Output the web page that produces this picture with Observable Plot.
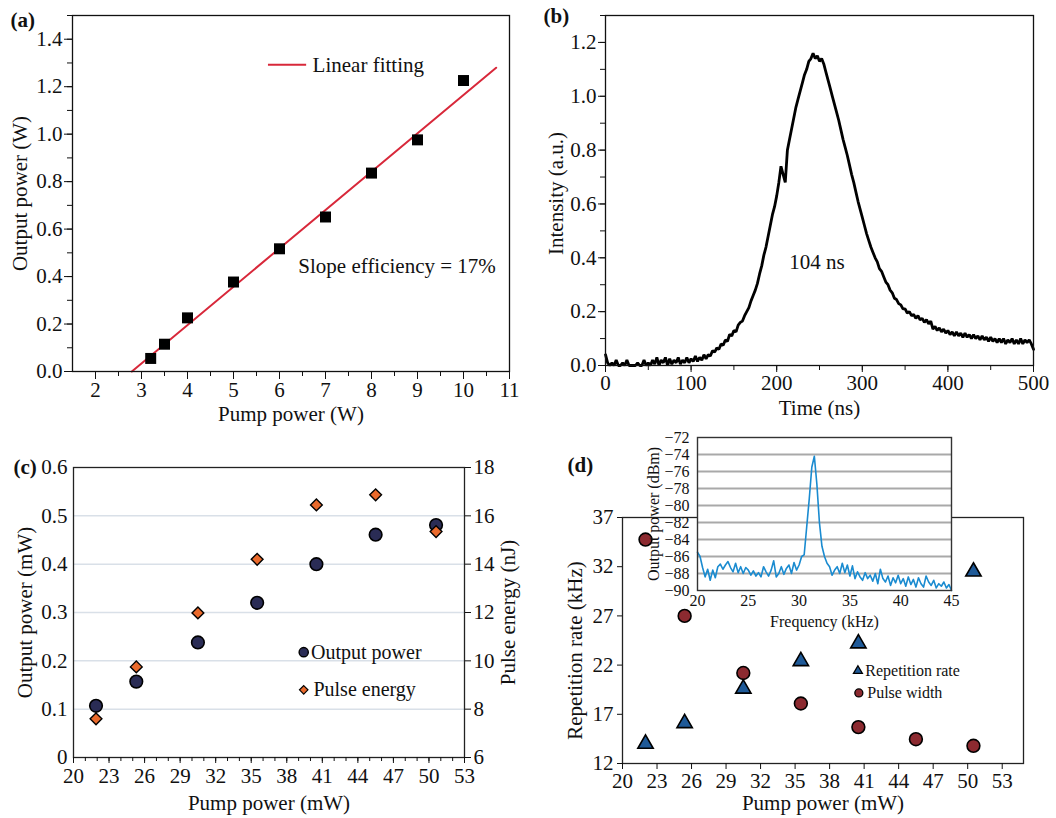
<!DOCTYPE html>
<html><head><meta charset="utf-8">
<script src="https://cdn.jsdelivr.net/npm/d3@7"></script>
<script src="https://cdn.jsdelivr.net/npm/@observablehq/plot@0.6"></script>
<style>
body{margin:0;background:#fff;}
#wrap{position:relative;width:1056px;height:818px;overflow:hidden;background:#fff;}
#wrap svg{position:absolute;}
#wrap svg text{font-family:"Liberation Serif","Times New Roman",serif !important;}
</style></head><body><div id="wrap"></div>
<script>
// ---------- (a) ----------
const pumpA = [3.2, 3.5, 4, 5, 6, 7, 8, 9, 10];
const outA = [0.055, 0.115, 0.226, 0.377, 0.517, 0.651, 0.836, 0.976, 1.226];
const fitPump = [2.79, 10.71];
const fitOut = [0, 1.28];
const aXTicks = [2, 3, 4, 5, 6, 7, 8, 9, 10, 11];
const aYTicks = [0, 0.2, 0.4, 0.6, 0.8, 1.0, 1.2, 1.4];

// ---------- (b) ----------
const timeStep = 2.5; // ns between samples
const intensity = [
  0.04, 0.01, 0.0, 0.01, 0.0, 0.02, 0.0, 0.0, 0.01, 0.0,
  0.02, 0.0, 0.0, 0.0, 0.0, 0.01, 0.0, 0.0, 0.02, 0.0,
  0.01, 0.0, 0.02, 0.005, 0.03, 0.0, 0.02, 0.01, 0.03, 0.0,
  0.025, 0.005, 0.02, 0.01, 0.03, 0.005, 0.02, 0.01, 0.03, 0.01,
  0.025, 0.015, 0.035, 0.015, 0.03, 0.02, 0.04, 0.025, 0.04, 0.035,
  0.055, 0.05, 0.065, 0.06, 0.08, 0.075, 0.095, 0.09, 0.115, 0.11,
  0.13, 0.125, 0.15, 0.16, 0.165, 0.185, 0.2, 0.215, 0.24, 0.26,
  0.28, 0.305, 0.34, 0.37, 0.41, 0.44, 0.48, 0.52, 0.56, 0.59,
  0.63, 0.68, 0.74, 0.71, 0.68, 0.8, 0.84, 0.88, 0.92, 0.96,
  0.99, 1.02, 1.05, 1.08, 1.10, 1.13, 1.14, 1.16, 1.14, 1.15,
  1.13, 1.14, 1.12, 1.09, 1.06, 1.03, 1.0, 0.97, 0.94, 0.91,
  0.875, 0.84, 0.81, 0.78, 0.745, 0.71, 0.68, 0.645, 0.61, 0.58,
  0.55, 0.52, 0.49, 0.465, 0.44, 0.42, 0.40, 0.385, 0.36, 0.35,
  0.33, 0.31, 0.30, 0.28, 0.27, 0.25, 0.245, 0.23, 0.225, 0.21,
  0.21, 0.195, 0.2, 0.185, 0.19, 0.175, 0.185, 0.17, 0.175, 0.16,
  0.17, 0.155, 0.165, 0.135, 0.145, 0.13, 0.14, 0.125, 0.135, 0.12,
  0.13, 0.115, 0.125, 0.11, 0.125, 0.11, 0.12, 0.105, 0.12, 0.105,
  0.115, 0.1, 0.115, 0.1, 0.11, 0.095, 0.11, 0.095, 0.105, 0.09,
  0.105, 0.09, 0.1, 0.085, 0.1, 0.085, 0.1, 0.08, 0.095, 0.085,
  0.1, 0.08, 0.095, 0.08, 0.1, 0.08, 0.095, 0.085, 0.095, 0.08,
  0.06
];
const bXTicks = [0, 100, 200, 300, 400, 500];
const bYTicks = [0, 0.2, 0.4, 0.6, 0.8, 1.0, 1.2];
const pulseLabel = "104 ns";

// ---------- (c) ----------
const pumpC = [21.9, 25.3, 30.5, 35.5, 40.5, 45.5, 50.6];
const outC = [0.107, 0.157, 0.238, 0.32, 0.40, 0.461, 0.481];
const energyC = [7.6, 9.75, 11.98, 14.2, 16.45, 16.87, 15.35];
const cXTicks = [20, 23, 26, 29, 32, 35, 38, 41, 44, 47, 50, 53];
const cYTicks = [0, 0.1, 0.2, 0.3, 0.4, 0.5, 0.6];
const cEnergyTicks = [6, 8, 10, 12, 14, 16, 18];

// ---------- (d) ----------
const pumpRep = [22.0, 25.4, 30.5, 35.5, 40.5, 50.5];
const repRate = [14.0, 16.1, 19.6, 22.4, 24.2, 31.5];
const pumpWidth = [22.0, 25.4, 30.5, 35.5, 40.5, 45.5, 50.5];
const pulseWidth = [34.76, 27.0, 21.2, 18.1, 15.7, 14.47, 13.8];
const dXTicks = [20, 23, 26, 29, 32, 35, 38, 41, 44, 47, 50, 53];
const dYTicks = [12, 17, 22, 27, 32, 37];

// ---------- (d) inset spectrum ----------
const freqStart = 20, freqStep = 0.25; // kHz
const spectrum = [
  -85.5, -86.0, -87.3, -88.4, -87.5, -88.8, -87.6, -88.5, -87.2, -86.9,
  -87.5, -87.0, -86.6, -87.3, -87.8, -86.8, -87.9, -87.2, -88.0, -87.3,
  -87.6, -88.2, -87.7, -88.3, -87.9, -88.4, -87.2, -87.8, -88.3, -87.6,
  -86.5, -88.4, -88.0, -87.2, -88.1, -87.4, -87.0, -88.0, -86.7, -87.6,
  -87.0, -86.0, -85.8, -82.5, -79.2, -75.5, -74.2, -77.5, -82.0, -84.8,
  -86.0, -86.8, -87.2, -88.2, -87.6, -87.2, -88.0, -86.8, -87.9, -87.0,
  -88.3, -87.1, -88.6, -87.8, -88.4, -88.8, -87.9, -88.6, -88.2, -88.9,
  -88.0, -89.2, -87.5, -88.6, -89.0, -88.3, -89.4, -88.5, -89.1, -88.2,
  -89.2, -88.6, -89.5, -88.4, -89.3, -88.7, -89.6, -88.5, -89.2, -89.6,
  -88.3, -89.0, -89.4, -88.8, -89.7, -89.2, -89.5, -89.0, -89.7, -89.3,
  -90.0
];
const insetXTicks = [20, 25, 30, 35, 40, 45];
const insetYTicks = [-90, -88, -86, -84, -82, -80, -78, -76, -74, -72];

const FONT = "Liberation Serif, Times New Roman, serif";
const wrap = document.getElementById("wrap");
function place(svg, left, top) {
  svg.style.left = left + "px";
  svg.style.top = top + "px";
  wrap.appendChild(svg);
}
const baseStyle = {fontFamily: FONT, fontSize: "21px", background: "transparent", overflow: "visible", color: "#111"};
const T = d => d;

// ===== Panel (a) =====
const dataA = pumpA.map((x, i) => ({x, y: outA[i]}));
const fitA = fitPump.map((x, i) => ({x, y: fitOut[i]}));
const plotA = Plot.plot({
  width: 528, height: 425,
  marginLeft: 72, marginRight: 19, marginTop: 15, marginBottom: 54,
  style: baseStyle,
  x: {domain: [1.5, 11]},
  y: {domain: [0, 1.5]},
  marks: [
    Plot.line(fitA, {x: "x", y: "y", stroke: "#d8283a", strokeWidth: 2}),
    Plot.dot(dataA, {x: "x", y: "y", symbol: "square", r: 6.2, fill: "#000", stroke: "none"}),
    Plot.frame({stroke: "#111", strokeWidth: 1.3}),
    Plot.axisX({ticks: d3.range(2, 11.01, 0.5), tickSize: 5, tickFormat: () => "", label: null}),
    Plot.axisX({ticks: aXTicks, tickSize: 8, tickPadding: 3, tickFormat: d => String(d), label: null}),
    Plot.axisY({ticks: d3.range(0, 1.501, 0.1), tickSize: 5, tickFormat: () => "", label: null}),
    Plot.axisY({ticks: aYTicks, tickSize: 8, tickPadding: 2, tickFormat: d => d.toFixed(1), label: null}),
    Plot.ruleY([1.292], {x1: 5.76, x2: 6.59, stroke: "#d8283a", strokeWidth: 2}),
    Plot.text(["Linear fitting"], {x: 6.72, y: 1.292, text: T, textAnchor: "start", fontSize: 21}),
    Plot.text(["Slope efficiency = 17%"], {x: 6.41, y: 0.442, text: T, textAnchor: "start", fontSize: 21}),
    Plot.text(["Pump power (W)"], {frameAnchor: "bottom", dy: 43, lineAnchor: "middle", textAnchor: "middle", text: T, fontSize: 21}),
    Plot.text(["Output power (W)"], {frameAnchor: "left", dx: -52, rotate: -90, lineAnchor: "middle", textAnchor: "middle", text: T, fontSize: 21}),
    Plot.text(["(a)"], {frameAnchor: "top-left", dx: -62, dy: 5, lineAnchor: "middle", textAnchor: "start", text: T, fontSize: 21, fontWeight: "bold"})
  ]
});
place(plotA, 0, 0);

// ===== Panel (b) =====
const dataB = intensity.map((v, i) => ({t: i * timeStep, v}));
const plotB = Plot.plot({
  width: 528, height: 425,
  marginLeft: 77, marginRight: 23, marginTop: 15, marginBottom: 60,
  style: baseStyle,
  x: {domain: [0, 500]},
  y: {domain: [0, 1.3]},
  marks: [
    Plot.line(dataB, {x: "t", y: "v", stroke: "#000", strokeWidth: 2.8, strokeLinejoin: "miter"}),
    Plot.frame({stroke: "#111", strokeWidth: 1.3}),
    Plot.axisX({ticks: d3.range(0, 501, 50), tickSize: 5, tickFormat: () => "", label: null}),
    Plot.axisX({ticks: bXTicks, tickSize: 7, tickPadding: 3, tickFormat: d => String(d), label: null}),
    Plot.axisY({ticks: d3.range(0, 1.301, 0.1), tickSize: 5, tickFormat: () => "", label: null}),
    Plot.axisY({ticks: bYTicks, tickSize: 7, tickPadding: 2, tickFormat: d => d.toFixed(1), label: null}),
    Plot.text([pulseLabel], {x: 247, y: 0.383, text: T, fontSize: 21}),
    Plot.text(["Time (ns)"], {frameAnchor: "bottom", dy: 43, lineAnchor: "middle", textAnchor: "middle", text: T, fontSize: 21}),
    Plot.text(["Intensity (a.u.)"], {frameAnchor: "left", dx: -49, dy: 3, rotate: -90, lineAnchor: "middle", textAnchor: "middle", text: T, fontSize: 21}),
    Plot.text(["(b)"], {frameAnchor: "top-left", dx: -62, dy: 1, lineAnchor: "middle", textAnchor: "start", text: T, fontSize: 21, fontWeight: "bold"})
  ]
});
place(plotB, 528, 0);

// ===== Panel (c) =====
const toLeft = e => (e - 6) / 20;
const dataOut = pumpC.map((x, i) => ({x, y: outC[i]}));
const dataEn = pumpC.map((x, i) => ({x, y: toLeft(energyC[i])}));
const plotC = Plot.plot({
  width: 528, height: 398,
  marginLeft: 73, marginRight: 64, marginTop: 47, marginBottom: 61,
  style: baseStyle,
  x: {domain: [20, 53]},
  y: {domain: [0, 0.6]},
  marks: [
    Plot.gridY({ticks: [0.1, 0.2, 0.3, 0.4, 0.5], stroke: "#d9e0e8", strokeOpacity: 1, strokeWidth: 1.5}),
    Plot.frame({stroke: "#222", strokeWidth: 1.3}),
    Plot.axisX({ticks: d3.range(20, 53.01, 1), tickSize: 4, tickFormat: () => "", label: null}),
    Plot.axisX({ticks: cXTicks, tickSize: 6, tickPadding: 5, tickFormat: d => String(d), label: null}),
    Plot.axisY({ticks: cYTicks, tickSize: 0, tickPadding: 6, tickFormat: d => d === 0 ? "0" : d.toFixed(1), label: null}),
    Plot.axisY({anchor: "right", ticks: cEnergyTicks.map(toLeft), tickSize: 6, tickPadding: 3,
      tickFormat: v => String(Math.round(v * 20 + 6)), label: null}),
    Plot.dot(dataOut, {x: "x", y: "y", r: 6.3, fill: "#2a2c55", stroke: "#000", strokeWidth: 1.6}),
    Plot.dot(dataEn, {x: "x", y: "y", symbol: "diamond2", r: 5.3, fill: "#ea6a2c", stroke: "#000", strokeWidth: 1.4}),
    Plot.dot([0], {x: 39.43, y: 0.218, r: 4.6, fill: "#2a2c55", stroke: "#000", strokeWidth: 1.4}),
    Plot.dot([0], {x: 39.43, y: 0.14, symbol: "diamond2", r: 3.8, fill: "#ea6a2c", stroke: "#000", strokeWidth: 1.2}),
    Plot.text(["Output power"], {x: 40.05, y: 0.218, text: T, textAnchor: "start", fontSize: 20}),
    Plot.text(["Pulse energy"], {x: 40.25, y: 0.14, text: T, textAnchor: "start", fontSize: 20}),
    Plot.text(["Pump power (mW)"], {frameAnchor: "bottom", dy: 46, lineAnchor: "middle", textAnchor: "middle", text: T, fontSize: 21}),
    Plot.text(["Output power (mW)"], {frameAnchor: "left", dx: -48, rotate: -90, lineAnchor: "middle", textAnchor: "middle", text: T, fontSize: 21}),
    Plot.text(["Pulse energy (nJ)"], {frameAnchor: "right", dx: 44, rotate: -90, lineAnchor: "middle", textAnchor: "middle", text: T, fontSize: 21}),
    Plot.text(["(c)"], {frameAnchor: "top-left", dx: -60, dy: 0, lineAnchor: "middle", textAnchor: "start", text: T, fontSize: 21, fontWeight: "bold"})
  ]
});
place(plotC, 0, 420);

// ===== Panel (d) =====
const dataRep = pumpRep.map((x, i) => ({x, y: repRate[i]}));
const dataWid = pumpWidth.map((x, i) => ({x, y: pulseWidth[i]}));
const plotD = Plot.plot({
  width: 528, height: 398,
  marginLeft: 94, marginRight: 33, marginTop: 97, marginBottom: 55,
  style: baseStyle,
  x: {domain: [20, 54.85]},
  y: {domain: [12, 37]},
  marks: [
    Plot.frame({stroke: "#222", strokeWidth: 1.3}),
    Plot.axisX({ticks: dXTicks, tickSize: 6, tickPadding: 4, tickFormat: d => String(d), label: null}),
    Plot.axisY({ticks: dYTicks, tickSize: 5, tickPadding: 4, tickFormat: d => String(d), label: null}),
    Plot.dot(dataRep, {x: "x", y: "y", symbol: "triangle", r: 5.7, fill: "#1f5a98", stroke: "#000", strokeWidth: 1.6}),
    Plot.dot(dataWid, {x: "x", y: "y", r: 6.4, fill: "#8c2a30", stroke: "#000", strokeWidth: 1.6}),
    Plot.dot([0], {x: 40.46, y: 21.41, symbol: "triangle", r: 3.3, fill: "#1f5a98", stroke: "#000", strokeWidth: 1.3}),
    Plot.dot([0], {x: 40.54, y: 19.17, r: 4, fill: "#8c2a30", stroke: "#000", strokeWidth: 1.3}),
    Plot.text(["Repetition rate"], {x: 41.1, y: 21.41, text: T, textAnchor: "start", fontSize: 16}),
    Plot.text(["Pulse width"], {x: 41.27, y: 19.17, text: T, textAnchor: "start", fontSize: 16}),
    Plot.text(["Pump power (mW)"], {frameAnchor: "bottom", dy: 40, lineAnchor: "middle", textAnchor: "middle", text: T, fontSize: 21}),
    Plot.text(["Repetition rate (kHz)"], {frameAnchor: "left", dx: -47, dy: 10, rotate: -90, lineAnchor: "middle", textAnchor: "middle", text: T, fontSize: 21}),
    Plot.text(["(d)"], {frameAnchor: "top-left", dx: -55, dy: -52, lineAnchor: "middle", textAnchor: "start", text: T, fontSize: 21, fontWeight: "bold"})
  ]
});
place(plotD, 528, 420);

// ===== Inset =====
const dataSpec = spectrum.map((v, i) => ({f: freqStart + i * freqStep, v}));
const plotI = Plot.plot({
  width: 330, height: 200,
  marginLeft: 67, marginRight: 9, marginTop: 9, marginBottom: 38,
  style: {...baseStyle, fontSize: "16px"},
  x: {domain: [20, 45]},
  y: {domain: [-90, -72]},
  marks: [
    Plot.frame({fill: "#fff", stroke: "none"}),
    Plot.gridY({ticks: [-88, -86, -84, -82, -80, -78, -76, -74], stroke: "#a9a9a9", strokeOpacity: 1, strokeWidth: 1.8}),
    Plot.line(dataSpec, {x: "f", y: "v", stroke: "#1a8bd0", strokeWidth: 1.6}),
    Plot.frame({stroke: "#333", strokeWidth: 1.4}),
    Plot.axisX({ticks: insetXTicks, tickSize: 0, tickPadding: 4, tickFormat: d => String(d), label: null}),
    Plot.axisY({ticks: insetYTicks, tickSize: 0, tickPadding: 8, tickFormat: d => "\u2212" + Math.abs(d), label: null}),
    Plot.text(["Frequency (kHz)"], {frameAnchor: "bottom", dy: 31, lineAnchor: "middle", textAnchor: "middle", text: T, fontSize: 16}),
    Plot.text(["Output power (dBm)"], {frameAnchor: "left", dx: -44, rotate: -90, lineAnchor: "middle", textAnchor: "middle", text: T, fontSize: 16})
  ]
});
place(plotI, 630, 428);
</script>
</body></html>
